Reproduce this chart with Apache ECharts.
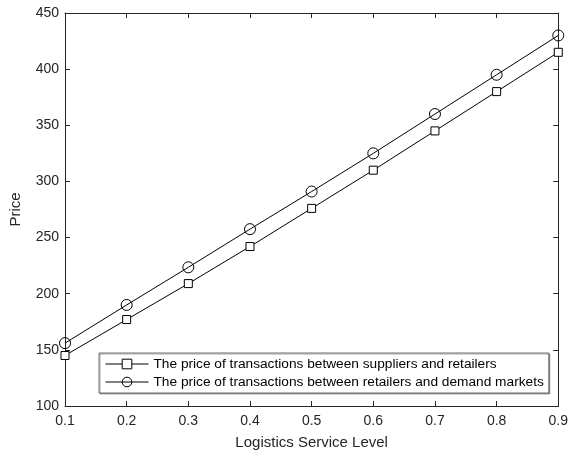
<!DOCTYPE html>
<html lang="en">
<head>
    <meta charset="UTF-8">
    <title>Price vs Logistics Service Level</title>
    <script src="https://cdn.jsdelivr.net/npm/echarts@6/dist/echarts.min.js"></script>
    <style>
        html, body { margin: 0; padding: 0; background: #fff; }
    </style>
</head>
<body>
    <div id="main" style="width: 571px;height:457px;"></div>
    <script type="text/javascript">
        // data
        var serviceLevels = [0.1, 0.2, 0.3, 0.4, 0.5, 0.6, 0.7, 0.8, 0.9];
        var supplierRetailerPrice = [145, 177, 209, 242, 276, 310, 345, 380, 415];
        var retailerMarketPrice = [156, 190, 223.5, 257.5, 291, 325, 360, 395, 430];
        var seriesNames = [
            'The price of transactions between suppliers and retailers',
            'The price of transactions between retailers and demand markets'
        ];

        function pairs(xs, ys) {
            return xs.map(function (x, i) { return [x, ys[i]]; });
        }

        var textColor = '#262626';
        var font = 'Arial, "Liberation Sans", sans-serif';

        var myChart = echarts.init(document.getElementById('main'), null, { renderer: 'canvas' });

        var boxAxisLine = { show: true, lineStyle: { color: '#262626', width: 1 } };
        var boxTick = { show: true, inside: true, length: 5, lineStyle: { color: '#262626' } };

        var option = {
            backgroundColor: '#fff',
            animation: false,
            grid: { left: 63, top: 13, right: 10, bottom: 51 },
            legend: {
                data: seriesNames,
                orient: 'vertical',
                left: 99,
                top: 353,
                padding: [4, 5, 4, 6],
                itemGap: 4,
                itemWidth: 43,
                itemHeight: 12,
                backgroundColor: '#fff',
                borderColor: '#6e6e6e',
                borderWidth: 1,
                borderRadius: 0,
                shadowColor: 'rgba(0,0,0,0.35)',
                shadowOffsetX: 1,
                shadowOffsetY: 1,
                shadowBlur: 0,
                lineStyle: { width: 1, color: '#000' },
                itemStyle: { borderWidth: 1, borderColor: '#000' },
                textStyle: { color: '#000', fontSize: 13.7, fontFamily: font, lineHeight: 14 }
            },
            xAxis: [{
                type: 'value',
                min: 0.1,
                max: 0.9,
                interval: 0.1,
                name: 'Logistics Service Level',
                nameLocation: 'middle',
                nameGap: 29,
                nameTextStyle: { color: textColor, fontSize: 15, fontFamily: font },
                axisLine: boxAxisLine,
                axisTick: boxTick,
                splitLine: { show: false },
                axisLabel: {
                    color: textColor, fontSize: 14, fontFamily: font, margin: 8,
                    formatter: function (v) { return v.toFixed(1); }
                }
            }, {
                type: 'value',
                position: 'top',
                min: 0.1,
                max: 0.9,
                interval: 0.1,
                axisLine: boxAxisLine,
                axisTick: boxTick,
                splitLine: { show: false },
                axisLabel: { show: false }
            }],
            yAxis: [{
                type: 'value',
                min: 100,
                max: 450,
                interval: 50,
                name: 'Price',
                nameLocation: 'middle',
                nameGap: 42,
                nameRotate: 90,
                nameTextStyle: { color: textColor, fontSize: 15, fontFamily: font },
                axisLine: boxAxisLine,
                axisTick: boxTick,
                splitLine: { show: false },
                axisLabel: { color: textColor, fontSize: 14, fontFamily: font, margin: 6 }
            }, {
                type: 'value',
                position: 'right',
                min: 100,
                max: 450,
                interval: 50,
                axisLine: boxAxisLine,
                axisTick: boxTick,
                splitLine: { show: false },
                axisLabel: { show: false }
            }],
            series: [{
                name: seriesNames[0],
                type: 'line',
                data: pairs(serviceLevels, supplierRetailerPrice),
                symbol: 'rect',
                symbolSize: 8,
                lineStyle: { color: '#000', width: 1 },
                itemStyle: { color: '#fff', borderColor: '#000', borderWidth: 1 }
            }, {
                name: seriesNames[1],
                type: 'line',
                data: pairs(serviceLevels, retailerMarketPrice),
                symbol: 'circle',
                symbolSize: 11,
                lineStyle: { color: '#000', width: 1 },
                itemStyle: { color: 'rgba(255,255,255,0)', borderColor: '#000', borderWidth: 1 }
            }]
        };

        myChart.setOption(option);
    </script>
</body>
</html>
